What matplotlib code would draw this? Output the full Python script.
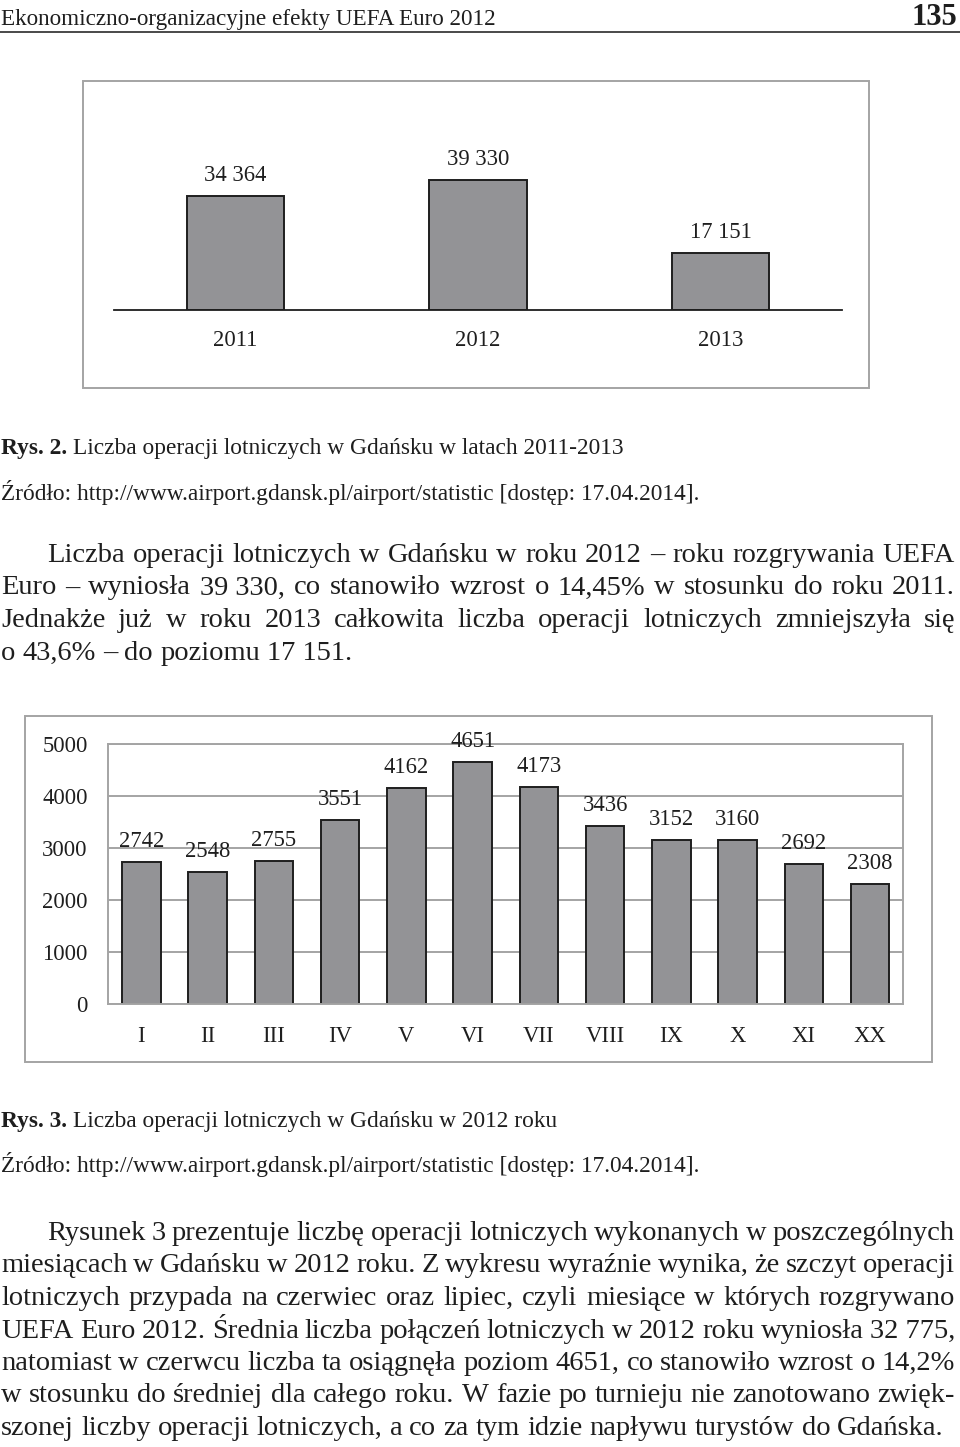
import matplotlib.pyplot as plt
from matplotlib.patches import Rectangle

plt.rcParams['font.family'] = ['Liberation Serif', 'DejaVu Serif']

# data
years = ['2011', '2012', '2013']
ops_by_year = [34364, 39330, 17151]

months = ['I', 'II', 'III', 'IV', 'V', 'VI', 'VII', 'VIII', 'IX', 'X', 'XI', 'XX']
ops_by_month = [2742, 2548, 2755, 3551, 4162, 4651, 4173, 3436, 3152, 3160, 2692, 2308]
month_ticks = [0, 1000, 2000, 3000, 4000, 5000]

# page text
header = 'Ekonomiczno-organizacyjne efekty UEFA Euro 2012'
page_no = '135'
source = 'Źródło: http://www.airport.gdansk.pl/airport/statistic [dostęp: 17.04.2014].'
fig2_caption = ('Rys. 2.', 'Liczba operacji lotniczych w Gdańsku w latach 2011-2013')
fig3_caption = ('Rys. 3.', 'Liczba operacji lotniczych w Gdańsku w 2012 roku')
para1 = [
    'Liczba operacji lotniczych w Gdańsku w roku 2012 – roku rozgrywania UEFA',
    'Euro – wyniosła 39\u00a0330, co stanowiło wzrost o 14,45% w stosunku do roku 2011.',
    'Jednakże już w roku 2013 całkowita liczba operacji lotniczych zmniejszyła się',
    'o 43,6% – do poziomu 17\u00a0151.',
]
para2 = [
    'Rysunek 3 prezentuje liczbę operacji lotniczych wykonanych w poszczególnych',
    'miesiącach w Gdańsku w 2012 roku. Z wykresu wyraźnie wynika, że szczyt operacji',
    'lotniczych przypada na czerwiec oraz lipiec, czyli miesiące w których rozgrywano',
    'UEFA Euro 2012. Średnia liczba połączeń lotniczych w 2012 roku wyniosła 32\u00a0775,',
    'natomiast w czerwcu liczba ta osiągnęła poziom 4651, co stanowiło wzrost o 14,2%',
    'w stosunku do średniej dla całego roku. W fazie po turnieju nie zanotowano zwięk-',
    'szonej liczby operacji lotniczych, a co za tym idzie napływu turystów do Gdańska.',
]

W, H = 960, 1447
INK = '#1e1e1e'
BAR = '#939396'
FRAME = '#a4a4a4'
BODY = 20.5
SMALL = 16.8
CHART = 16.3

fig = plt.figure(figsize=(W / 100, H / 100), dpi=100)
page = fig.add_axes([0, 0, 1, 1], zorder=0)
page.set_xlim(0, W)
page.set_ylim(H, 0)
page.axis('off')
renderer = fig.canvas.get_renderer()


def box(l, t, r, b):
    return [l / W, 1 - b / H, (r - l) / W, (b - t) / H]


def write(x, y, s, size, weight='normal', ha='left'):
    return page.text(x, y, s, fontsize=size, fontweight=weight, ha=ha,
                     va='baseline', color=INK)


def caption(y, parts):
    bold = write(1, y, parts[0], SMALL, weight='bold')
    page.annotate(parts[1], xy=(1, 0), xycoords=bold, xytext=(0.25 * SMALL, 0),
                  textcoords='offset points', va='bottom', fontsize=SMALL, color=INK)


def justify(line, y, indent=0, last=False, x0=1, x1=955):
    words = line.split(' ')
    arts = [write(0, y, w, BODY) for w in words]
    widths = [a.get_window_extent(renderer).width for a in arts]
    start = x0 + indent
    if last or len(words) == 1:
        gap = BODY * 100 / 72 * 0.25
    else:
        gap = (x1 - start - sum(widths)) / (len(words) - 1)
    x = start
    for a, w in zip(arts, widths):
        a.set_x(x)
        x += w + gap


def value_labels(ax, xs, vals, grouped):
    for xi, v in zip(xs, vals):
        txt = f'{v:,}'.replace(',', ' ') if grouped else str(v)
        ax.annotate(txt, (xi, v), xytext=(0, 16.6),
                    textcoords='offset points', ha='center', va='center_baseline',
                    fontsize=CHART, color=INK)


# header
write(1, 25, header, 16.7)
write(957, 25, page_no, 22, weight='bold', ha='right')
page.plot([0, W], [32, 32], color='#3a3a3a', lw=1.3)

# Rys. 2 - yearly operations
page.add_patch(Rectangle((82.7, 80.7), 786, 307.3, fill=False, edgecolor=FRAME, lw=1.4))
ax1 = fig.add_axes(box(114, 161.3, 842, 310), zorder=1)
ax1.set_facecolor('none')
xs = range(len(years))
ax1.bar(xs, ops_by_year, width=0.4, color=BAR, edgecolor=INK, linewidth=1.4)
ax1.set_xlim(-0.5, len(years) - 0.5)
ax1.set_ylim(0, 45000)
ax1.set_xticks(list(xs), years)
ax1.set_yticks([])
for s in ['left', 'right', 'top']:
    ax1.spines[s].set_visible(False)
ax1.spines['bottom'].set_color(INK)
ax1.spines['bottom'].set_linewidth(1.3)
ax1.tick_params(axis='x', length=0, pad=14.7, labelsize=CHART, labelcolor=INK)
value_labels(ax1, xs, ops_by_year, grouped=True)

caption(454, fig2_caption)
write(1, 500, source, SMALL)

for i, line in enumerate(para1):
    justify(line, 562 + 32.5 * i, indent=46 if i == 0 else 0, last=(i == len(para1) - 1))

# Rys. 3 - monthly operations in 2012
page.add_patch(Rectangle((25, 715.7), 907, 346, fill=False, edgecolor=FRAME, lw=1.4))
ax2 = fig.add_axes(box(108.3, 744.3, 903.3, 1004.3), zorder=1)
ax2.set_facecolor('none')
xm = range(len(months))
ax2.bar(xm, ops_by_month, width=0.58, color=BAR, edgecolor=INK, linewidth=1.4)
ax2.set_xlim(-0.5, len(months) - 0.5)
ax2.set_ylim(0, 5000)
ax2.set_yticks(month_ticks)
ax2.set_xticks(list(xm), months)
ax2.yaxis.grid(True, color=FRAME, lw=1.4)
ax2.set_axisbelow(True)
for s in ax2.spines.values():
    s.set_color(FRAME)
    s.set_linewidth(1.4)
ax2.tick_params(axis='y', length=0, pad=14.8, labelsize=CHART, labelcolor=INK)
ax2.tick_params(axis='x', length=0, pad=15.5, labelsize=CHART, labelcolor=INK)
value_labels(ax2, xm, ops_by_month, grouped=False)

caption(1127, fig3_caption)
write(1, 1172, source, SMALL)

for i, line in enumerate(para2):
    justify(line, 1240 + 32.5 * i, indent=46 if i == 0 else 0, last=(i == len(para2) - 1))

fig.savefig('out.png', dpi=100, facecolor='white')
